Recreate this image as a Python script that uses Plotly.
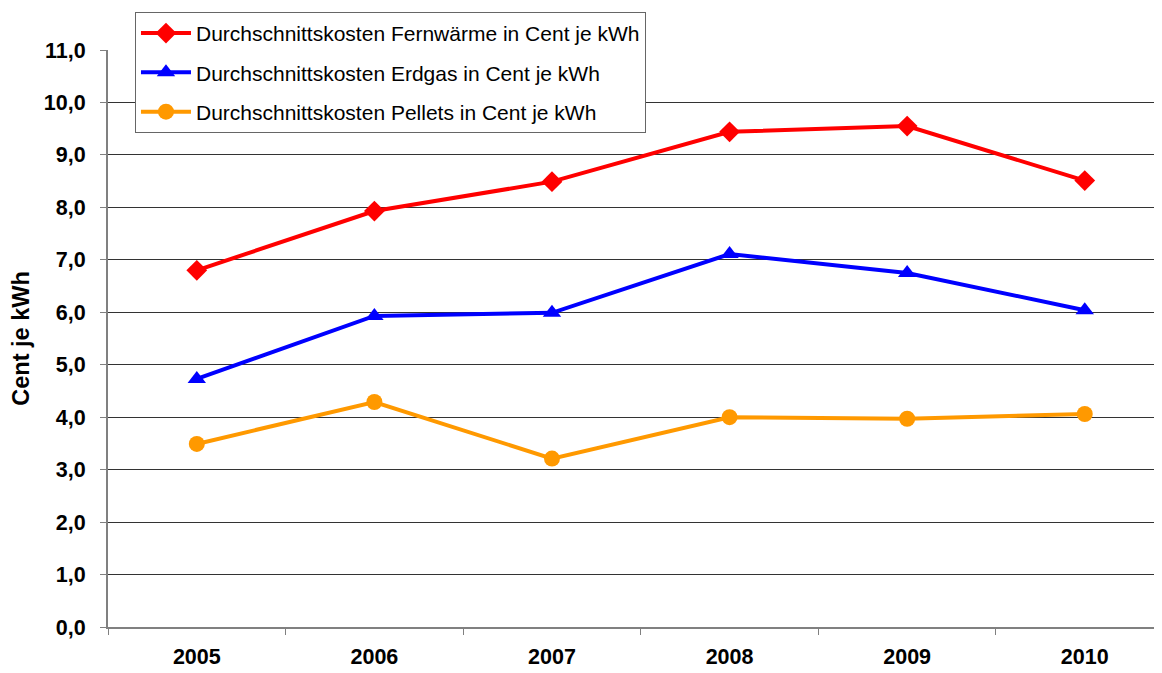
import plotly.graph_objects as go

jahre = ["2005", "2006", "2007", "2008", "2009", "2010"]
fernwaerme = [6.8, 7.93, 8.49, 9.44, 9.55, 8.51]
erdgas = [4.73, 5.93, 5.99, 7.11, 6.75, 6.04]
pellets = [3.49, 4.29, 3.21, 4.00, 3.97, 4.06]

font_fam = "Liberation Sans, Arial, sans-serif"

trace1 = go.Scatter(x=jahre, y=fernwaerme, mode="lines+markers",
                    name="Durchschnittskosten Fernwärme in Cent je kWh",
                    line=dict(color="#FF0000", width=4),
                    marker=dict(symbol="diamond", size=16, color="#FF0000"),
                    legendgroup="a")
trace2 = go.Scatter(x=jahre, y=erdgas, mode="lines+markers",
                    name="Durchschnittskosten Erdgas in Cent je kWh",
                    line=dict(color="#0000FF", width=4),
                    marker=dict(symbol="triangle-up", size=16, color="#0000FF"),
                    legendgroup="b")
trace3 = go.Scatter(x=jahre, y=pellets, mode="lines+markers",
                    name="Durchschnittskosten Pellets in Cent je kWh",
                    line=dict(color="#FF9900", width=4),
                    marker=dict(symbol="circle", size=16, color="#FF9900"),
                    legendgroup="c")

# page has an 8px body margin, so the figure is drawn 8px smaller
layout = go.Layout(
    width=1154, height=665,
    margin=dict(l=100, r=0, t=42, b=46),
    paper_bgcolor="white", plot_bgcolor="white",
    font=dict(family=font_fam, color="black"),
    separators=",.",
    showlegend=True,
    legend=dict(x=0.0256, y=1.066, xanchor="left", yanchor="top",
                bordercolor="#666666", borderwidth=1, bgcolor="white",
                font=dict(size=21, family=font_fam),
                tracegroupgap=9, itemwidth=50),
    xaxis=dict(type="category", range=[-0.5, 5.435],
               showgrid=False, showline=True, linecolor="#808080", linewidth=2,
               ticks="outside", ticklen=6, tickcolor="#808080", tickson="boundaries",
               tickfont=dict(size=21.5, weight="bold"), ticklabelstandoff=9,
               fixedrange=True),
    yaxis=dict(range=[0, 11], dtick=1, tickformat=".1f",
               showgrid=True, gridcolor="#333333", gridwidth=1,
               showline=True, linecolor="#808080", linewidth=2,
               ticks="outside", ticklen=6, tickcolor="#808080",
               tickfont=dict(size=21.5, weight="bold"), ticklabelstandoff=10,
               zeroline=False,
               title=dict(text="Cent je kWh", font=dict(size=23.5, weight="bold"), standoff=12)),
)

fig = go.Figure(data=[trace1, trace2, trace3], layout=layout)
fig.write_html("out.html")
